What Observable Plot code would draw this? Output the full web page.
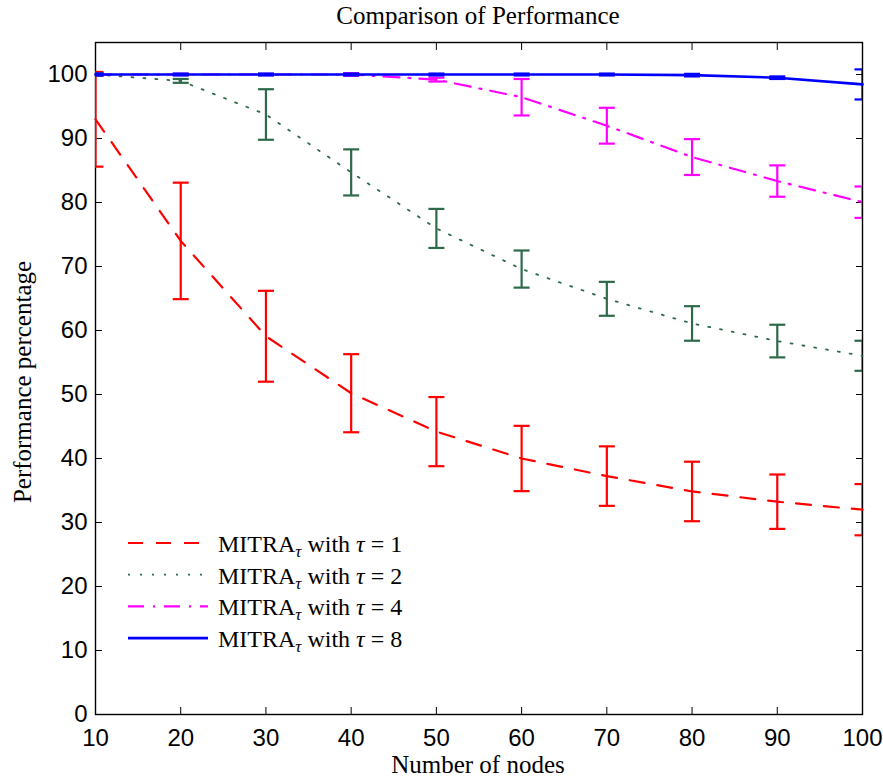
<!DOCTYPE html>
<html><head><meta charset="utf-8">
<script src="https://cdn.jsdelivr.net/npm/d3@7"></script>
<script src="https://cdn.jsdelivr.net/npm/@observablehq/plot@0.6"></script>
<style>body{margin:0;background:#fff}#chart{width:883px;height:780px}</style>
</head><body><div id="chart"></div>
<script>
// ---- data ----
const nodes = [10, 20, 30, 40, 50, 60, 70, 80, 90, 100];
const xTicks = [10, 20, 30, 40, 50, 60, 70, 80, 90, 100];
const yTicks = [0, 10, 20, 30, 40, 50, 60, 70, 80, 90, 100];
const tauValues = ["1", "2", "4", "8"];

const tau1Mean = [93, 74, 59.1, 50.2, 44.2, 40, 37.25, 34.85, 33.25, 32];
const tau1Err  = [7.4, 9.1, 7.1, 6.1, 5.4, 5.1, 4.65, 4.65, 4.25, 4.0];
const tau2Mean = [100, 99, 93.75, 84.7, 75.95, 69.6, 64.95, 61.1, 58.35, 56.05];
const tau2Err  = [0.2, 0.3, 3.95, 3.6, 3.05, 2.9, 2.65, 2.7, 2.55, 2.35];
const tau4Mean = [100, 100, 100, 100, 99.2, 96.45, 92, 87.1, 83.35, 80.05];
const tau4Err  = [0.1, 0.1, 0.1, 0.2, 0.3, 2.85, 2.8, 2.8, 2.45, 2.45];
const tau8Mean = [100, 100, 100, 100, 100, 100, 100, 99.9, 99.5, 98.45];
const tau8Err  = [0.15, 0.15, 0.15, 0.15, 0.15, 0.15, 0.15, 0.2, 0.2, 2.35];

// ---- styles ----
const colors = ["#ff0000", "#2d6a4a", "#ff00ff", "#0000ff"];
const dashes = ["15,13", "2,10", "16,9,2,9", null];
const lineWidths = [2.2, 1.8, 2.2, 2.6];

const means = [tau1Mean, tau2Mean, tau4Mean, tau8Mean];
const errs = [tau1Err, tau2Err, tau4Err, tau8Err];

const seriesRows = means.map((m, i) => nodes.map((n, j) => ({
  x: n, y: m[j], lo: m[j] - errs[i][j], hi: m[j] + errs[i][j]
})));

const capSymbol = {draw(ctx, size) { const w = Math.sqrt(size / Math.PI); ctx.moveTo(-w, 0); ctx.lineTo(w, 0); }};

const dataMarks = seriesRows.flatMap((rows, i) => [
  Plot.ruleX(rows, {x: "x", y1: "lo", y2: "hi", stroke: colors[i], strokeWidth: 2.2, clip: "frame"}),
  Plot.dot(rows, {x: "x", y: "lo", r: 8, symbol: capSymbol, fill: "none", stroke: colors[i], strokeWidth: 2.2, clip: "frame"}),
  Plot.dot(rows, {x: "x", y: "hi", r: 8, symbol: capSymbol, fill: "none", stroke: colors[i], strokeWidth: 2.2, clip: "frame"}),
  Plot.line(rows, {x: "x", y: "y", stroke: colors[i], strokeWidth: lineWidths[i], strokeDasharray: dashes[i] ?? undefined})
]);

const chart = Plot.plot({
  width: 883, height: 780,
  marginLeft: 95, marginRight: 21, marginTop: 42, marginBottom: 66,
  style: {fontFamily: "'Liberation Sans', Arial, sans-serif", fontSize: "24px", color: "black", background: "white"},
  x: {domain: [10, 100]},
  y: {domain: [0, 105]},
  marks: [
    Plot.axisX({anchor: "bottom", ticks: xTicks, tickSize: -7, tickPadding: 21, label: null, fontSize: 24}),
    Plot.axisX({anchor: "top", ticks: xTicks, tickSize: -7, tickFormat: () => "", label: null}),
    Plot.axisY({anchor: "left", ticks: yTicks, tickSize: -7, tickPadding: 15, label: null, fontSize: 24}),
    Plot.axisY({anchor: "right", ticks: yTicks, tickSize: -7, tickFormat: () => "", label: null}),
    Plot.frame({stroke: "black", strokeWidth: 1.4}),
    ...dataMarks
  ]
});
document.getElementById("chart").appendChild(chart);

const svg = d3.select(chart);
const serif = "'Liberation Serif', 'Times New Roman', serif";
svg.append("text").attr("x", 478).attr("y", 24).attr("text-anchor", "middle")
  .attr("font-family", serif).attr("font-size", 25).attr("fill", "black").text("Comparison of Performance");
svg.append("text").attr("x", 478).attr("y", 773).attr("text-anchor", "middle")
  .attr("font-family", serif).attr("font-size", 25).attr("fill", "black").text("Number of nodes");
svg.append("text").attr("transform", "translate(31,382) rotate(-90)").attr("text-anchor", "middle")
  .attr("font-family", serif).attr("font-size", 25).attr("fill", "black").text("Performance percentage");

// legend
const lg = svg.append("g");
tauValues.forEach((tau, i) => {
  const y = 543 + i * 31.7;
  const ln = lg.append("line").attr("x1", 128).attr("x2", 208).attr("y1", y).attr("y2", y)
    .attr("stroke", colors[i]).attr("stroke-width", lineWidths[i]);
  if (dashes[i]) ln.attr("stroke-dasharray", dashes[i]);
  const t = lg.append("text").attr("x", 218).attr("y", y + 9).attr("text-anchor", "start")
    .attr("font-family", serif).attr("font-size", 24).attr("fill", "black").style("white-space", "pre");
  t.append("tspan").text("MITRA");
  t.append("tspan").attr("font-style", "italic").attr("font-size", 17).attr("dy", 5).text("τ");
  t.append("tspan").attr("dy", -5).text(" with ");
  t.append("tspan").attr("font-style", "italic").text("τ");
  t.append("tspan").text(" = " + tau);
});
</script>
</body></html>
